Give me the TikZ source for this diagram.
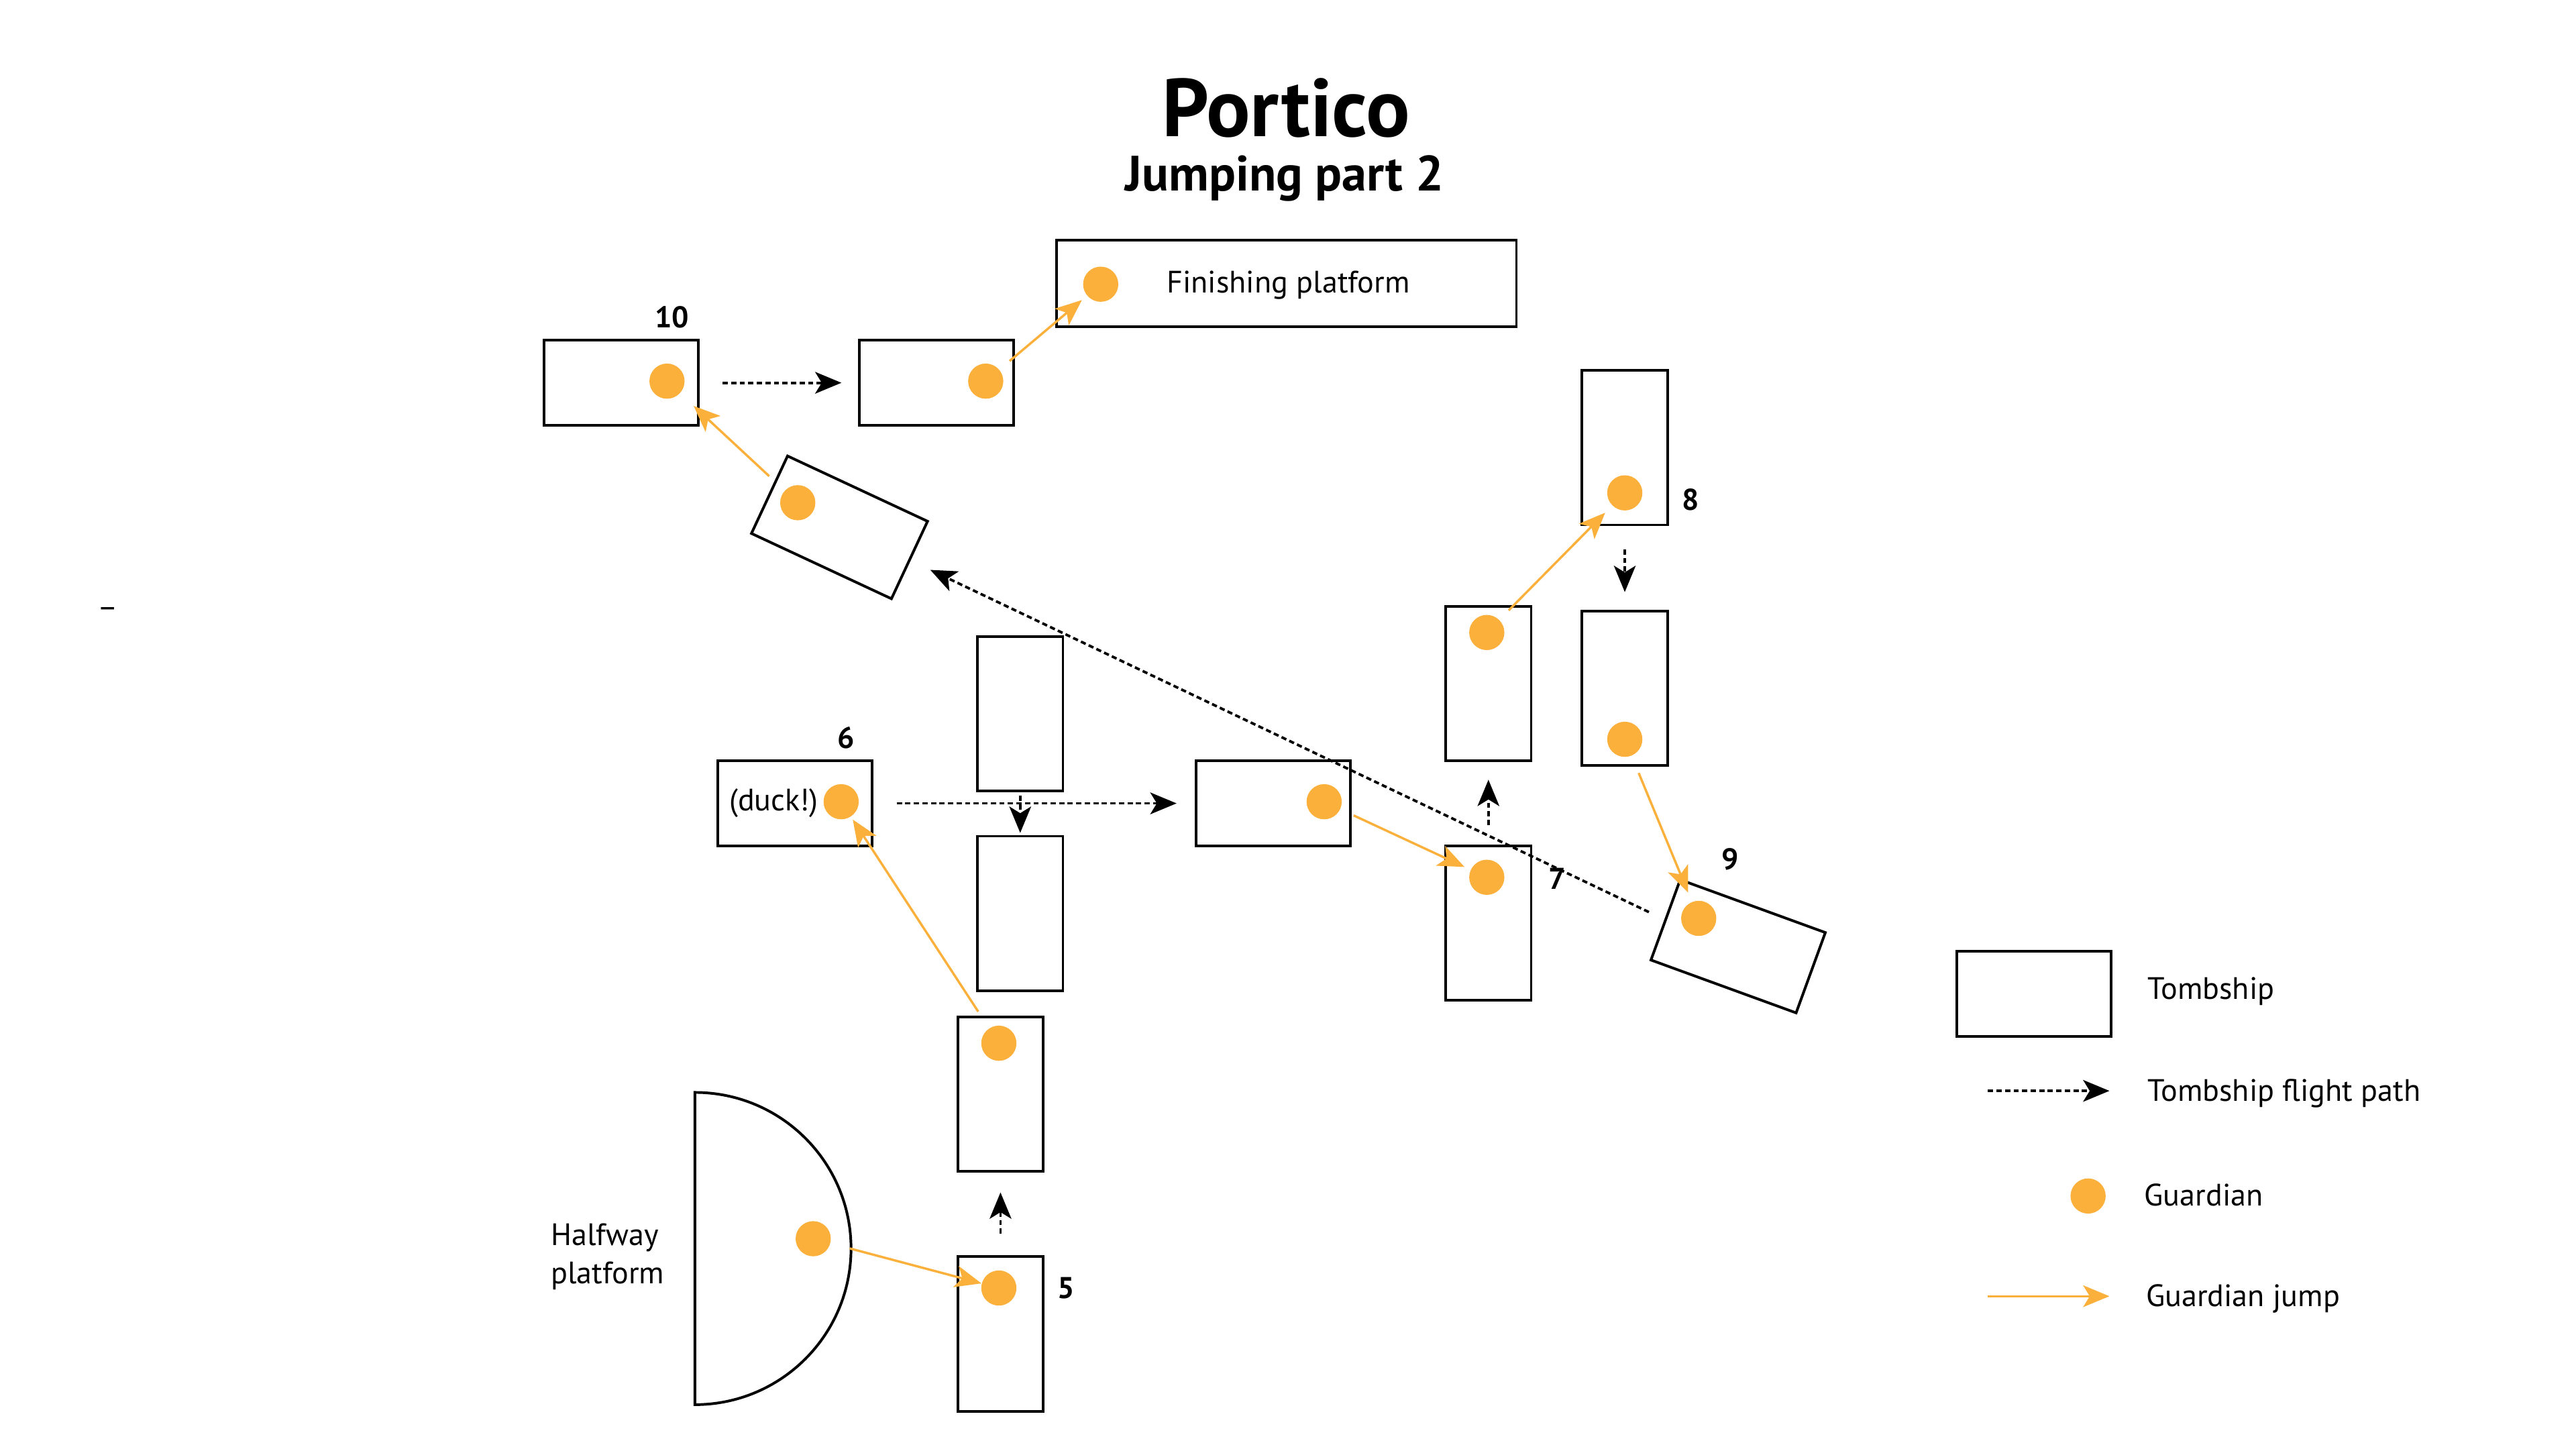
\documentclass[tikz,border=0pt]{standalone}
\usepackage{fontspec}
\setmainfont{PT Sans}
\usetikzlibrary{arrows.meta}
\definecolor{guardorange}{HTML}{FBB03B}

\tikzset{
  ship/.style={draw, line width=1.15pt, minimum width=2.35cm, minimum height=1.3cm, inner sep=0pt},
  tallship/.style={ship, minimum width=1.3cm, minimum height=2.35cm},
  guard/.style={circle, fill=guardorange, minimum size=0.535cm, inner sep=0pt},
  jump/.style={guardorange, line width=1pt, -{Stealth[length=0.4cm,width=0.33cm,inset=0.1cm]}},
  flight/.style={line width=1.1pt, dash pattern=on 0.08cm off 0.05cm, -{Stealth[length=0.4cm,width=0.33cm,inset=0.1cm]}},
  txt/.style={font=\fontsize{13.4}{16.6}\selectfont, inner sep=0pt},
  num/.style={font=\bfseries\fontsize{13}{15}\selectfont, inner sep=0pt},
}

\begin{document}
\begin{tikzpicture}[x=0.025cm, y=-0.025cm]
    \useasboundingbox (0,0) rectangle (1568,882);

    % Title
    \node[font=\bfseries\fontsize{35.5}{42}\selectfont, anchor=base] (title) at (783,83) {Portico};
    \node[font=\bfseries\fontsize{21.5}{26}\selectfont, anchor=base] (subtitle) at (782,116) {Jumping part 2};
    \node[txt, anchor=base] (dash) at (65.5,376) {–};

    % Tombships
    \node[ship, minimum width=7cm, minimum height=1.325cm] (bF) at (783,172.5) {};
    \node[ship] (b10) at (378,233) {};
    \node[ship] (b10a) at (570,233) {};
    \node[ship, rotate=-25] (bA) at (511,321) {};
    \node[tallship] (b8) at (989,272.5) {};
    \node[tallship] (b8a) at (989,419) {};
    \node[tallship] (b7a) at (906,416) {};
    \node[tallship] (b7) at (906,562) {};
    \node[ship, rotate=-20] (b9) at (1058,576) {};
    \node[ship] (b6) at (484,489) {};
    \node[ship] (bm) at (775,489) {};
    \node[tallship] (bv1) at (621,434.5) {};
    \node[tallship] (bv2) at (621,556) {};
    \node[tallship] (b5a) at (609,666) {};
    \node[tallship] (b5) at (609,812) {};

    % Halfway platform
    \draw[line width=1.15pt] (423,855) arc[start angle=-90, end angle=90, radius=2.375cm] -- cycle;

    % Texts and numbers
    \node[txt, anchor=west] (finish) at (710,173.5) {Finishing platform};
    \node[txt] (duck) at (471,489) {(duck!)};
    \node[txt, anchor=west, align=left] (halfway) at (335,765) {Halfway\\platform};
    \node[num] (n10) at (409,193) {10};
    \node[num] (n8) at (1029,304) {8};
    \node[num] (n9) at (1053,523) {9};
    \node[num] (n7) at (948,535) {7};
    \node[num] (n6) at (515,449) {6};
    \node[num] (n5) at (649,784) {5};

    % Guardians
    \node[guard] (gF) at (670,173) {};
    \node[guard] (g10) at (406,232) {};
    \node[guard] (g10a) at (600,232) {};
    \node[guard] (gA) at (485.6,306) {};
    \node[guard] (g8) at (989,300) {};
    \node[guard] (g8a) at (989,450) {};
    \node[guard] (g7a) at (905,385) {};
    \node[guard] (g7) at (905,534) {};
    \node[guard] (g9) at (1034,559) {};
    \node[guard] (gm) at (806,488) {};
    \node[guard] (g6) at (512,488) {};
    \node[guard] (g5a) at (608,635) {};
    \node[guard] (g5) at (608,784) {};
    \node[guard] (gH) at (495,754) {};

    % Tombship flight paths
    \draw[flight, shorten <=0.35cm, shorten >=0.25cm] (b10.east) -- (b10a.west);
    \draw[flight, shorten <=0.35cm, shorten >=0.275cm] (b6.east) -- (bm.west);
    \draw[flight, shorten <=0.05cm, shorten >=0.03cm] (bv1.south) -- (bv2.north);
    \draw[flight, shorten <=0.3cm, shorten >=0.27cm] (b7.north) -- (b7a.south);
    \draw[flight, shorten <=0.35cm, shorten >=0.27cm] (b8.south) -- (b8a.north);
    \draw[flight, shorten <=0.33cm, shorten >=0.3cm] (b5.north) -- (b5a.south);
    \draw[flight, shorten <=0.26cm, shorten >=0.33cm] (b9.west) -- (bA.east);

    % Guardian jumps
    \draw[jump, shorten <=0.3cm] (gH) -- (g5);
    \draw[jump, shorten <=0.3cm, shorten >=0.05cm] (g5a) -- (g6);
    \draw[jump, shorten <=0.22cm, shorten >=0.1cm] (gm) -- (g7);
    \draw[jump, shorten <=0.2cm, shorten >=0.15cm] (g7a) -- (g8);
    \draw[jump, shorten <=0.28cm, shorten >=0.15cm] (g8a) -- (g9);
    \draw[jump, shorten <=0.32cm, shorten >=0.28cm] (gA) -- (g10);
    \draw[jump, shorten <=0.2cm, shorten >=0.1cm] (g10a) -- (gF);

    % Legend
    \node[ship] (lship) at (1238,605) {};
    \node[txt, anchor=west] (lshiptxt) at (1307,603.5) {Tombship};
    \coordinate (lflightA) at (1210,664);
    \coordinate (lflightB) at (1284,664);
    \draw[flight] (lflightA) -- (lflightB);
    \node[txt, anchor=west] (lflighttxt) at (1307,665.5) {Tombship flight path};
    \node[guard] (lguard) at (1271,728) {};
    \node[txt, anchor=west] (lguardtxt) at (1305,727.5) {Guardian};
    \coordinate (ljumpA) at (1210,789);
    \coordinate (ljumpB) at (1284,789);
    \draw[jump] (ljumpA) -- (ljumpB);
    \node[txt, anchor=west] (ljumptxt) at (1306,790.5) {Guardian jump};
\end{tikzpicture}
\end{document}
